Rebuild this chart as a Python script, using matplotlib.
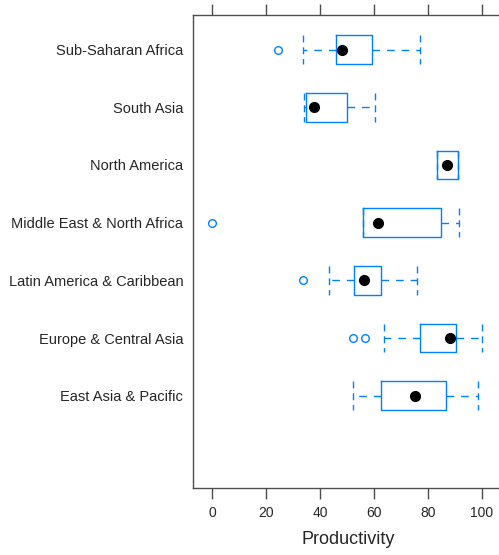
import matplotlib
matplotlib.use('Agg')
from matplotlib import pyplot as plt

plt.rcParams['font.family'] = ['Liberation Sans', 'DejaVu Sans']

# regions, top to bottom
regions = ['Sub-Saharan Africa', 'South Asia', 'North America',
           'Middle East & North Africa', 'Latin America & Caribbean',
           'Europe & Central Asia', 'East Asia & Pacific']

lo_whisker = [33.7, 33.9, 83.3, 56.0, 43.4, 63.6, 52.2]
q1 = [45.9, 34.7, 83.3, 56.0, 52.5, 77.2, 62.5]
median = [48.3, 37.7, 87.2, 61.3, 56.1, 88.1, 75.0]
q3 = [59.2, 50.1, 91.1, 84.9, 62.5, 90.3, 86.5]
hi_whisker = [77.0, 60.5, 91.1, 91.6, 76.0, 100.2, 98.6]
outliers = [[24.4], [], [], [0.0], [33.7], [52.2, 56.5], []]

xticks = [0, 20, 40, 60, 80, 100]

blue = '#0080ff'
frame = '#4d4d4d'
text_col = '#262626'

stats = []
for i in range(len(regions)):
    stats.append({'label': regions[i], 'whislo': lo_whisker[i], 'q1': q1[i],
                  'med': median[i], 'q3': q3[i], 'whishi': hi_whisker[i],
                  'fliers': outliers[i]})

fig = plt.figure(figsize=(4.99, 5.55), dpi=100)
ax = fig.add_axes([193 / 499, 67 / 555, 310 / 499, 473 / 555])

pos = list(range(1, len(regions) + 1))
ax.bxp(stats, positions=pos, widths=0.5, orientation='horizontal',
       patch_artist=False,
       boxprops=dict(color=blue, linewidth=1.0),
       whiskerprops=dict(color=blue, linewidth=1.0, linestyle=(0, (5.5, 5))),
       capprops=dict(color=blue, linewidth=1.0, linestyle=(0, (5, 3.5))),
       medianprops=dict(linewidth=0),
       flierprops=dict(marker='o', markersize=5.5, markerfacecolor='white',
                       markeredgecolor=blue, markeredgewidth=1.0),
       capwidths=0.5)
ax.plot(median, pos, 'o', color='black', markersize=7, zorder=5)

ax.set_ylim(8.6, 0.4)
ax.set_xlim(-7.1, 107.8)
ax.set_yticks(pos)
ax.set_yticklabels(regions, fontsize=10.5, color=text_col)
ax.tick_params(axis='y', length=0, pad=7)

ax.set_xticks(xticks)
ax.set_xticklabels([str(t) for t in xticks])
ax.tick_params(axis='x', which='both', top=True, bottom=True,
               direction='out', length=8, width=1, color=frame,
               labelsize=10, labelcolor=text_col, pad=5)
ax.set_xlabel('Productivity', fontsize=13, color=text_col, labelpad=8)

for side in ['left', 'top', 'bottom', 'right']:
    ax.spines[side].set_color(frame)
    ax.spines[side].set_linewidth(1.0)

fig.savefig('out.png', dpi=100)
